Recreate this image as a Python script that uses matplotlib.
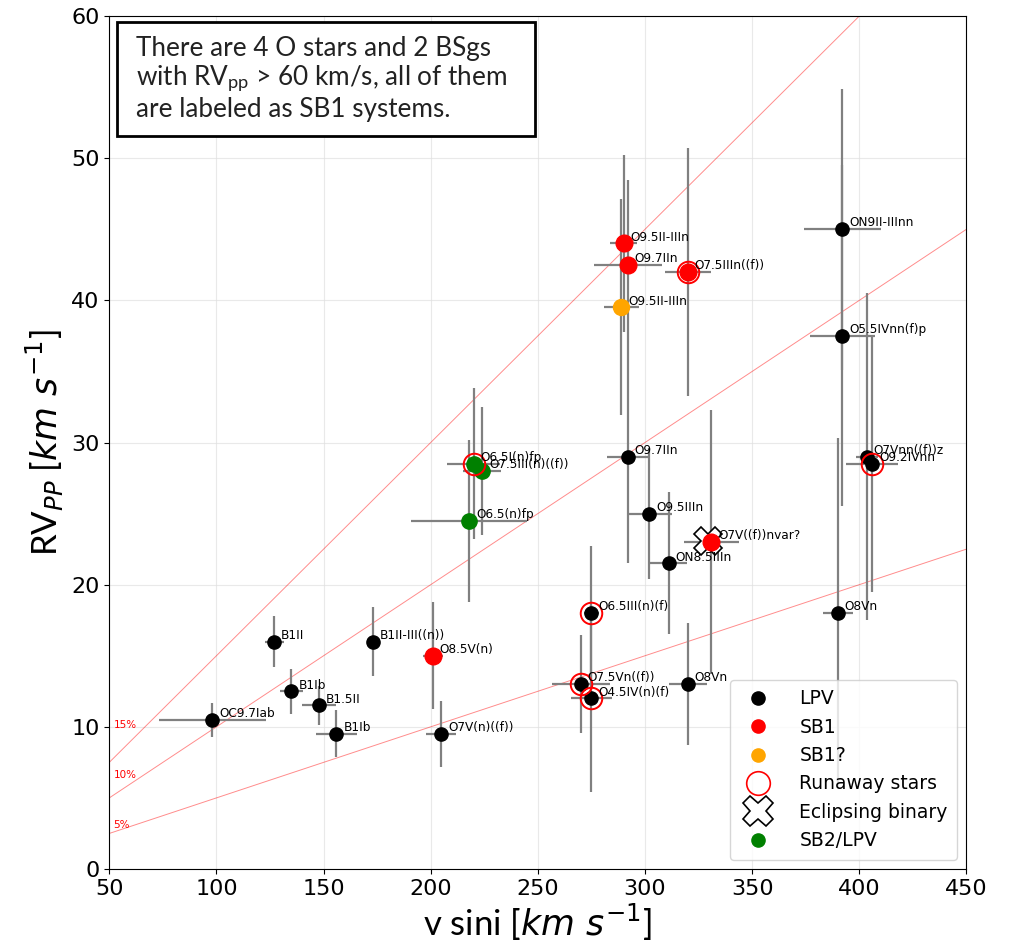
import matplotlib
matplotlib.use("Agg")
import matplotlib.pyplot as plt
from matplotlib.lines import Line2D
from matplotlib.patches import Rectangle
import numpy as np

# donnees
names = ["OC9.7Iab", "B1II", "B1Ib", "B1.5II", "B1Ib", "B1II-III((n))", "O8.5V(n)",
         "O7V(n)((f))", "O6.5(n)fp", "O6.5I(n)fp", "O7.5III(n)((f))", "O6.5III(n)(f)",
         "O7.5Vn((f))", "O4.5IV(n)(f)", "O9.5II-IIIn", "O9.7IIn", "O9.5II-IIIn", "O9.7IIn",
         "O9.5IIIn", "ON8.5IIIn", "O7.5IIIn((f))", "O8Vn", "O7V((f))nvar?", "O8Vn",
         "ON9II-IIInn", "O5.5IVnn(f)p", "O7Vnn((f))z", "O9.2IVnn"]
vsini = [98, 127, 135, 148, 156, 173, 201, 205, 218, 220, 224, 275, 270, 275,
         290, 292, 289, 292, 302, 311, 320, 320, 331, 390, 392, 392, 403.5, 406]
rv = [10.5, 16, 12.5, 11.5, 9.5, 16, 15, 9.5, 24.5, 28.5, 28, 18, 13, 12,
      44, 42.5, 39.5, 29, 25, 21.5, 42, 13, 23, 18, 45, 37.5, 29, 28.5]
vsini_err = [25, 4.5, 5.5, 8, 9.5, 2.6, 4.7, 7, 27, 12.5, 9, 3.5, 13.5, 9.6,
             6.3, 16, 8, 9.8, 10.5, 8.7, 10.7, 9, 13, 7, 18, 15.2, 5, 12]
rv_err = [1.2, 1.8, 1.6, 1.4, 1.65, 2.4, 3.75, 2.3, 5.7, 5.3, 4.5, 4.7, 3.45, 6.6,
          6.2, 6, 7.6, 7.5, 4.6, 5, 8.7, 4.3, 9.3, 12.3, 9.9, 12, 11.5, 9]
status = ["LPV", "LPV", "LPV", "LPV", "LPV", "LPV", "SB1", "LPV", "SB2/LPV", "SB2/LPV",
          "SB2/LPV", "LPV", "LPV", "LPV", "SB1", "SB1", "SB1?", "LPV", "LPV", "LPV",
          "SB1", "LPV", "SB1", "LPV", "LPV", "LPV", "LPV", "LPV"]
runaway = ["O6.5I(n)fp", "O6.5III(n)(f)", "O7.5Vn((f))", "O4.5IV(n)(f)", "O7.5IIIn((f))", "O9.2IVnn"]
eclipsing = ["O7V((f))nvar?"]

ratios = [0.15, 0.10, 0.05]
ratio_labels = ["15%", "10%", "5%"]
ratio_label_y = [9.9, 6.4, 2.9]

colors = {"LPV": "black", "SB1": "red", "SB1?": "orange", "SB2/LPV": "green"}
sizes = {"LPV": 9.5, "SB1": 12, "SB1?": 11.5, "SB2/LPV": 11}

fig = plt.figure(figsize=(10.12, 9.43), dpi=100)
ax = fig.add_axes([0.108, 0.0785, 0.847, 0.9045])

# droites RVpp = k * vsini
xl = np.array([50, 450])
for k, lab, ly in zip(ratios, ratio_labels, ratio_label_y):
    ax.plot(xl, k * xl, color="red", lw=0.7, alpha=0.45, zorder=1)
    ax.text(52, ly, lab, color="red", fontsize=7.5, va="baseline")

ax.errorbar(vsini, rv, xerr=vsini_err, yerr=rv_err, fmt="none", ecolor="gray",
            elinewidth=1.6, capsize=0, zorder=2)

for i, n in enumerate(names):
    if n in eclipsing:
        ax.plot(vsini[i] - 1.5, rv[i] + 0.1, marker="X", ms=20, mfc="white", mec="black", mew=1.2, ls="none", zorder=3)
for i, n in enumerate(names):
    st = status[i]
    ax.plot(vsini[i], rv[i], "o", color=colors[st], ms=sizes[st], zorder=4)
    if n in runaway:
        ax.plot(vsini[i], rv[i], "o", mfc="none", mec="red", ms=15.5, mew=1.4, zorder=5)
    ax.annotate(n, (vsini[i], rv[i]), xytext=(5, 2), textcoords="offset points",
                fontsize=8.7, va="baseline", zorder=6)

ax.set_xlim(50, 450)
ax.set_ylim(0, 60)
ax.grid(True, color="#e0e0e0", lw=0.8, alpha=0.7)
ax.set_axisbelow(True)
ax.tick_params(labelsize=16)

plt.rcParams["mathtext.fontset"] = "custom"
plt.rcParams["mathtext.rm"] = "Lato"
plt.rcParams["mathtext.it"] = "Lato:italic"
ax.set_xlabel(r"v sini [$km\ s^{-1}$]", fontsize=25, family="Lato", labelpad=2)
ax.set_ylabel(r"RV$_{PP}$ [$km\ s^{-1}$]", fontsize=25, family="Lato", labelpad=4)

# boite de texte
ax.add_patch(Rectangle((0.0093, 0.859), 0.487, 0.134, transform=ax.transAxes,
                       fill=True, facecolor="white", edgecolor="black", lw=2, zorder=7))
ax.text(0.0315, 0.926, "There are 4 O stars and 2 BSgs\nwith RV$_\\mathrm{pp}$ > 60 km/s, all of them\nare labeled as SB1 systems.",
        transform=ax.transAxes, fontsize=18.8, family="Lato", color="#222222",
        va="center", ha="left", linespacing=1.12, zorder=8)

handles = [
    Line2D([], [], marker="o", ls="none", color="black", ms=9.5, label="LPV"),
    Line2D([], [], marker="o", ls="none", color="red", ms=9.5, label="SB1"),
    Line2D([], [], marker="o", ls="none", color="orange", ms=9.5, label="SB1?"),
    Line2D([], [], marker="o", ls="none", mfc="none", mec="red", ms=17, mew=1.2, label="Runaway stars"),
    Line2D([], [], marker="X", ls="none", mfc="white", mec="black", ms=22, mew=1.2, label="Eclipsing binary"),
    Line2D([], [], marker="o", ls="none", color="green", ms=9.5, label="SB2/LPV"),
]
ax.legend(handles=handles, loc="lower right", fontsize=13.5, handletextpad=1.2,
          labelspacing=0.5, borderpad=0.5)

fig.savefig("out.png", dpi=100)
